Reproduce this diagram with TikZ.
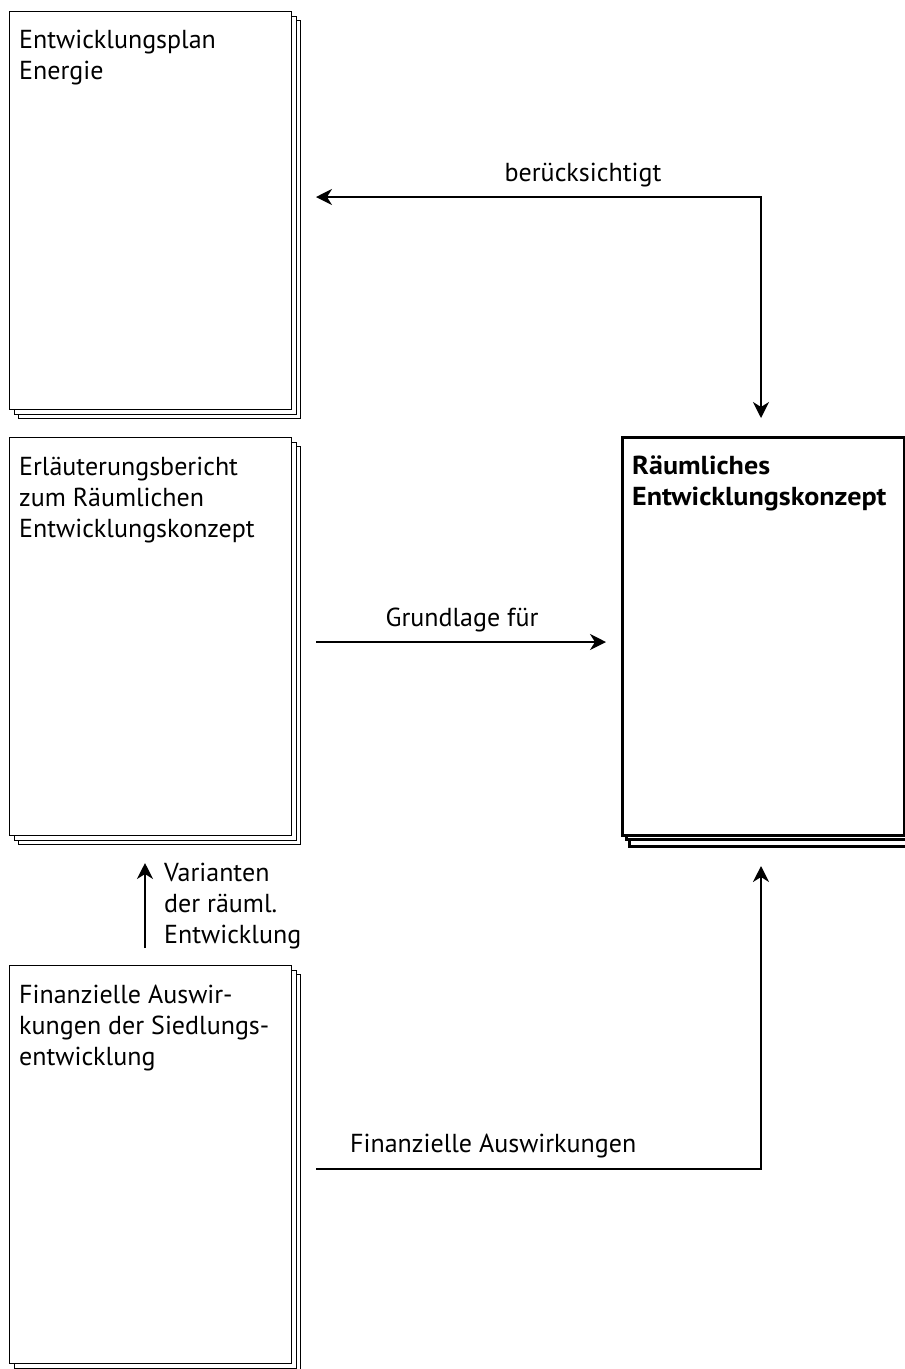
\documentclass[tikz,border=0pt]{standalone}
\usepackage{fontspec}
\setmainfont{PT Sans}
\newfontfamily\widebold{PT Sans Bold}[FakeStretch=1.08]
\usetikzlibrary{arrows.meta}
\tikzset{
  page/.style={draw=black, line width=1.3pt, fill=white, minimum width=282pt, minimum height=398pt, inner sep=0pt, anchor=north west},
  bigpage/.style={draw=black, line width=3pt, fill=white, minimum width=282pt, minimum height=398pt, inner sep=0pt, anchor=north west},
  txt/.style={font=\fontsize{26}{31}\selectfont, align=left, inner sep=0pt, anchor=base west},
  lbl/.style={font=\fontsize{26}{31}\selectfont, inner sep=0pt, anchor=base},
  conn/.style={line width=1.6pt, -{Stealth[length=16pt,width=16pt,inset=5pt]}},
  conn2/.style={line width=1.6pt, {Stealth[length=16pt,width=16pt,inset=5pt]}-{Stealth[length=16pt,width=16pt,inset=5pt]}}
}
\begin{document}
\begin{tikzpicture}[x=1pt,y=-1pt]
\useasboundingbox[fill=white] (0,0) rectangle (905,1369);
% stacked pages, left column
\node[page] at (18,20) {};
\node[page] at (13.5,15.5) {};
\node[page] (e1) at (9,11) {};
\node[page] at (18,446) {};
\node[page] at (13.5,441.5) {};
\node[page] (e2) at (9,437) {};
\node[page] at (18,974) {};
\node[page] at (13.5,969.5) {};
\node[page] (e3) at (9,965) {};
% right stacked page
\node[bigpage] at (628,447) {};
\node[bigpage] at (625,440) {};
\node[bigpage] (rek) at (621,436) {};
% texts (anchor = baseline of last line)
\node[txt] (t1) at (19,79) {Entwicklungsplan\\Energie};
\node[txt] (t2) at (19,537) {Erläuterungsbericht\\zum Räumlichen\\Entwicklungskonzept};
\node[txt] (t3) at (19,1065) {Finanzielle Auswir-\\kungen der Siedlungs-\\entwicklung};
\node[txt, font=\fontsize{26}{31}\selectfont\widebold] (t4) at (632,505) {Räumliches\\Entwicklungskonzept};
% connectors
\coordinate (k1) at (761,197);
\coordinate (a1) at (316,197);
\coordinate (a2) at (761,418);
\draw[conn2] (a1) -- (k1) -- (a2);
\node[lbl] (l1) at (583,181) {berücksichtigt};
\coordinate (g1) at (316,642);
\coordinate (g2) at (606,642);
\draw[conn] (g1) -- (g2);
\node[lbl] (l2) at (462,626) {Grundlage für};
\coordinate (v1) at (145,948);
\coordinate (v2) at (145,863);
\draw[conn] (v1) -- (v2);
\node[txt] (l3) at (164,943) {Varianten\\der räuml.\\Entwicklung};
\coordinate (f1) at (316,1169);
\coordinate (f2) at (761,1169);
\coordinate (f3) at (761,866);
\draw[conn] (f1) -- (f2) -- (f3);
\node[txt] (l4) at (350,1152) {Finanzielle Auswirkungen};
\end{tikzpicture}
\end{document}
